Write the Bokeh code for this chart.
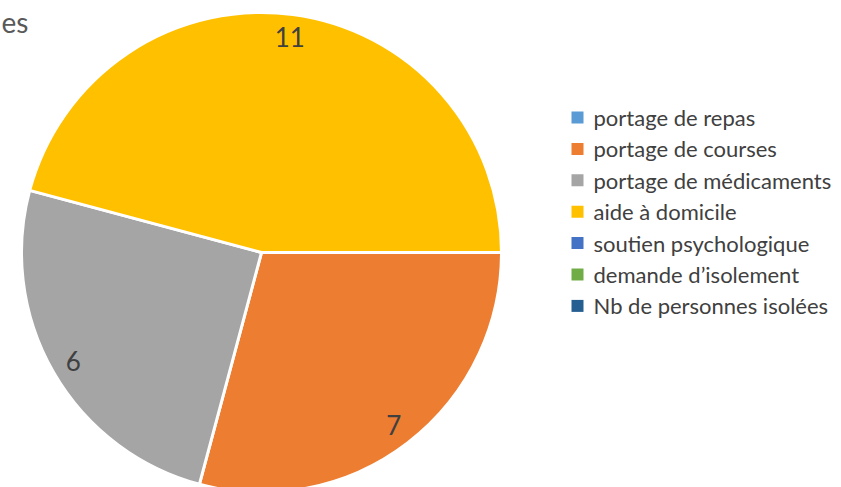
import numpy as np
from bokeh.plotting import figure
from bokeh.models import Range1d, ColumnDataSource
from bokeh.core.properties import value
from bokeh.embed import file_html
from bokeh.resources import INLINE

# ---- data ----
categories = ["portage de repas", "portage de courses", "portage de médicaments",
              "aide à domicile", "soutien psychologique", "demande d\u2019isolement",
              "Nb de personnes isolées"]
counts = [0, 7, 6, 11, 0, 0, 0]
colors = ["#5B9BD5", "#ED7D31", "#A5A5A5", "#FFC000", "#4472C4", "#70AD47", "#255E91"]
title_text = "es"

# ---- layout (screen-pixel coordinates, y negated) ----
W, H = 841, 487
cx, cy, R = 261, -252, 240

p = figure(width=W, height=H, output_backend="svg", toolbar_location=None,
           x_range=Range1d(0, W), y_range=Range1d(-H, 0),
           min_border=0, outline_line_color=None)
p.axis.visible = False
p.grid.visible = False
p.background_fill_color = "white"

vals = np.array(counts, dtype=float)
frac = vals / vals.sum()
ends = np.cumsum(frac) * 2 * np.pi
starts = ends - frac * 2 * np.pi
nz = vals > 0
# clockwise from 3 o'clock
src = ColumnDataSource(dict(s=list(-starts[nz]), e=list(-ends[nz]),
                            c=[c for c, z in zip(colors, nz) if z]))
p.wedge(x=cx, y=cy, radius=R, start_angle="s", end_angle="e", direction="clock",
        fill_color="c", line_color="white", line_width=3, source=src)

# data labels
mid = -(starts + ends) / 2
lr = 0.905 * R
p.text(x=list(cx + lr * np.cos(mid[nz])), y=list(cy + lr * np.sin(mid[nz])),
       text=[str(c) for c, z in zip(counts, nz) if z],
       text_align="center", text_baseline="middle", text_font=value("Lato"),
       text_font_size="26px", text_color="#404040")

# title fragment at top-left
p.text(x=[1], y=[-21], text=[title_text], text_align="left", text_baseline="middle",
       text_font=value("Lato"), text_font_size="28px", text_color="#595959")

# legend
ly = [-(117 + 31.4 * i) for i in range(len(categories))]
p.scatter(x=[577] * len(categories), y=ly, marker="square", size=12,
          fill_color=colors, line_color=None)
p.text(x=[593] * len(categories), y=ly, text=categories, text_align="left",
       text_baseline="middle", text_font=value("Lato"), text_font_size="22px",
       text_color="#404040")

open("out.html", "w").write(file_html(p, INLINE))
